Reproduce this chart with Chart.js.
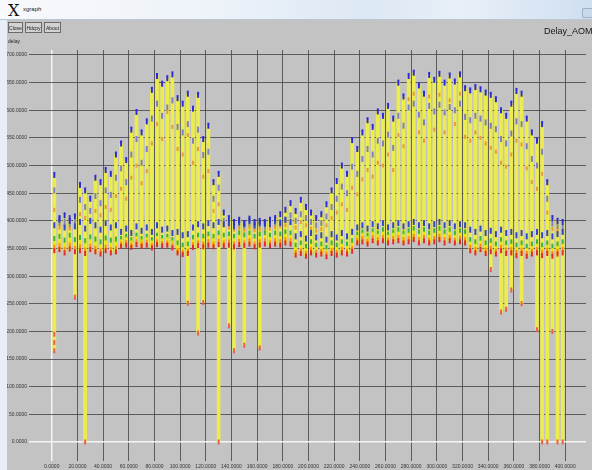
<!DOCTYPE html>
<html>
<head>
<meta charset="utf-8">
<title>xgraph</title>
<script src="https://cdn.jsdelivr.net/npm/chart.js@4.4.1/dist/chart.umd.min.js"></script>
<style>
  html, body { margin: 0; padding: 0; }
  body {
    width: 592px; height: 470px; overflow: hidden; position: relative;
    background: #c3c3c3; font-family: "Liberation Sans", Arial, sans-serif;
  }
  #plot { position: absolute; left: 0; top: 0; }
  #titlebar {
    position: absolute; left: 0; top: 0; width: 592px; height: 19px;
    background: linear-gradient(90deg, #f7f9fc 0%, #eef3f9 35%, #dce8f4 62%, #e8eff8 78%, #cfdff0 100%);
    border-bottom: 1px solid #b9c6d4;
  }
  #frame { position: absolute; left: 0; top: 20px; width: 7px; height: 450px; background: #e8eef6; }
  #xlogo { position: absolute; left: 8px; top: 1px; font: 16px "DejaVu Serif", serif; color: #111; }
  #apptitle { position: absolute; left: 23px; top: 6px; font-size: 6px; color: #222; }
  #winbtn { position: absolute; left: 582px; top: 8px; width: 12px; height: 8px; background: #c9d8ea; border: 1px solid #9fb1c6; border-radius: 1px; }
  .btn {
    position: absolute; top: 22px; height: 11px; line-height: 11px; box-sizing: border-box;
    border: 1px solid #6a6a6a; background: #d2d2d2; font-size: 5px; color: #222; text-align: center;
  }
  #unit { position: absolute; left: 8px; top: 38px; font-size: 5px; color: #222; }
  #heading { position: absolute; left: 544px; top: 26px; font-size: 9px; color: #151515; white-space: nowrap; }
</style>
</head>
<body>
<canvas id="plot" width="592" height="470"></canvas>
<div id="titlebar"></div>
<div id="xlogo">X</div>
<div id="apptitle">xgraph</div>
<div id="winbtn"></div>
<div id="frame"></div>
<div class="btn" style="left:8px;width:15px;">Close</div>
<div class="btn" style="left:25px;width:17px;">Hdcpy</div>
<div class="btn" style="left:44px;width:17px;">About</div>
<div id="unit">delay</div>
<div id="heading">Delay_AOMI</div>
<script>
// sample times (x) of each measurement column
const positions = [
  2, 6, 10, 14, 18, 22, 26, 30, 34, 38,
  42, 46, 50, 54, 58, 62, 66, 70, 74, 78,
  82, 86, 90, 94, 98, 102, 106, 110, 114, 118,
  122, 126, 130, 134, 138, 142, 146, 150, 154, 158,
  162, 166, 170, 174, 178, 182, 186, 190, 194, 198,
  202, 206, 210, 214, 218, 222, 226, 230, 234, 238,
  242, 246, 250, 254, 258, 262, 266, 270, 274, 278,
  282, 286, 290, 294, 298, 302, 306, 310, 314, 318,
  322, 326, 330, 334, 338, 342, 346, 350, 354, 358,
  362, 366, 370, 374, 378, 382, 386, 390, 394, 398
];

// highest delay per column
const maxDelay = [
  483, 405, 410, 400, 408, 465, 455, 440, 478, 470,
  492, 485, 520, 540, 510, 565, 597, 560, 580, 637,
  662, 648, 658, 665, 622, 612, 630, 603, 628, 548,
  572, 470, 485, 415, 405, 398, 402, 396, 404, 398,
  400, 395, 402, 405, 412, 420, 432, 418, 438, 425,
  415, 405, 412, 430, 455, 472, 500, 485, 546, 530,
  560, 582, 570, 598, 590, 608, 585, 650, 625, 662,
  668, 645, 630, 664, 655, 666, 650, 663, 652, 665,
  640, 636, 642, 638, 632, 628, 620, 600, 590, 612,
  635, 630, 585, 560, 545, 575, 470, 405, 400, 398
];

// upper intermediate level
const upperDelay = [
  455, 396, 398, 392, 397, 438, 425, 418, 445, 432,
  455, 447, 478, 495, 470, 520, 548, 505, 530, 585,
  612, 590, 605, 618, 570, 560, 575, 545, 565, 519,
  525, 440, 460, 400, 396, 390, 392, 388, 394, 389,
  391, 387, 393, 395, 398, 402, 410, 400, 412, 405,
  398, 392, 396, 408, 425, 440, 462, 450, 498, 485,
  512, 530, 520, 545, 540, 556, 532, 590, 572, 605,
  612, 592, 578, 608, 598, 610, 596, 606, 600, 612,
  588, 582, 590, 585, 578, 572, 566, 548, 540, 558,
  580, 575, 535, 512, 500, 525, 440, 395, 390, 388
];

// middle level
const midDelay = [
  420, 388, 390, 386, 389, 412, 405, 400, 418, 410,
  425, 420, 445, 458, 440, 478, 500, 468, 490, 540,
  575, 548, 597, 570, 530, 520, 555, 505, 530, 480,
  490, 418, 430, 392, 388, 384, 386, 382, 388, 383,
  385, 381, 386, 388, 390, 392, 396, 388, 398, 392,
  386, 382, 385, 392, 405, 415, 430, 420, 460, 448,
  475, 492, 480, 505, 500, 520, 492, 555, 535, 620,
  630, 560, 545, 625, 565, 628, 560, 618, 575, 630,
  552, 545, 560, 550, 540, 532, 525, 505, 498, 520,
  545, 538, 495, 470, 458, 485, 415, 385, 382, 380
];

// top of the dense band
const bandTop = [
  392, 402, 388, 405, 390, 398, 386, 400, 392, 384, 396, 388, 392,
  380, 386, 378, 390, 382, 388, 380, 392, 384, 386, 378, 380, 374, 376,
  388, 394, 390, 396, 392, 398, 394, 396, 390, 398, 394, 400, 392, 396, 398, 394, 400, 396, 402, 398,
  372, 376, 368, 378, 370, 374, 366, 376, 370, 378, 372, 380,
  388, 392, 386, 394, 390, 396, 388, 392, 396, 390, 394, 398, 392, 396, 390, 394, 398, 392, 396, 390, 394, 392,
  384, 380, 386, 378, 382, 376, 384, 378, 380, 374, 378, 372, 376, 380, 374, 378, 372, 376, 380
];

const greenDelay = [
  368, 372, 365, 374, 366, 370, 364, 371, 367, 362, 369, 365, 367,
  368, 372, 366, 374, 368, 372, 366, 374, 370, 372, 366, 360, 356, 358,
  370, 374, 372, 376, 372, 378, 374, 376, 372, 378, 374, 378, 372, 376, 378, 374, 378, 376, 380, 378,
  356, 360, 354, 362, 356, 358, 352, 360, 356, 362, 358, 364,
  376, 380, 374, 382, 378, 384, 376, 380, 384, 378, 382, 386, 380, 384, 378, 382, 386, 380, 384, 378, 382, 380,
  366, 362, 368, 360, 364, 358, 366, 360, 362, 356, 360, 354, 358, 362, 356, 360, 354, 358, 362
];

const yellowDelay = [
  358, 362, 355, 363, 356, 360, 354, 361, 357, 352, 359, 355, 357,
  362, 366, 360, 368, 362, 366, 360, 368, 364, 366, 360, 352, 348, 350,
  362, 366, 364, 368, 364, 370, 366, 368, 364, 370, 366, 370, 364, 368, 370, 366, 370, 368, 372, 370,
  348, 352, 346, 354, 348, 350, 344, 352, 348, 354, 350, 356,
  370, 374, 368, 376, 372, 376, 370, 374, 376, 372, 374, 378, 372, 376, 370, 374, 378, 372, 376, 370, 374, 372,
  358, 354, 360, 352, 356, 350, 358, 352, 354, 348, 352, 346, 350, 354, 348, 352, 346, 350, 354
];

const orangeDelay = [
  352, 355, 348, 356, 350, 353, 347, 354, 350, 346, 352, 348, 350,
  358, 361, 356, 362, 358, 361, 355, 362, 359, 360, 355, 346, 343, 345,
  357, 360, 358, 362, 358, 363, 360, 362, 358, 363, 360, 364, 358, 362, 364, 360, 364, 362, 366, 364,
  343, 346, 341, 348, 343, 345, 340, 346, 343, 348, 345, 350,
  365, 368, 363, 370, 366, 370, 365, 368, 370, 366, 368, 372, 366, 370, 365, 368, 372, 366, 370, 365, 368, 366,
  352, 348, 354, 347, 350, 345, 352, 347, 348, 343, 347, 341, 345, 348, 343, 347, 341, 345, 348
];

// lowest regular delay per column
const minDelay = [
  346, 348, 342, 349, 344, 346, 341, 348, 344, 340, 346, 342, 344,
  354, 356, 352, 357, 354, 356, 351, 357, 355, 356, 351, 342, 339, 341,
  352, 355, 353, 356, 353, 357, 355, 356, 353, 357, 355, 358, 353, 356, 358, 355, 358, 356, 360, 358,
  338, 341, 336, 342, 338, 340, 335, 341, 338, 342, 340, 345,
  360, 362, 358, 364, 360, 364, 360, 362, 364, 360, 362, 366, 360, 364, 360, 362, 366, 360, 364, 360, 362, 360,
  346, 342, 348, 341, 344, 340, 346, 341, 342, 337, 341, 336, 340, 342, 337, 341, 336, 340, 342
];

// isolated low readings
const lowOutX = [2, 2, 2, 18, 26, 106, 114, 118, 130, 138, 142, 150, 162,
                 342, 350, 354, 358, 366, 378, 382, 386, 390, 394, 398];
const lowOutY = [165, 180, 195, 262, 0, 251, 197, 252, 0, 210, 165, 175, 170,
                 312, 235, 240, 275, 250, 203, 0, 0, 200, 0, 0];

// axis ticks
const xTickValues = [0, 20, 40, 60, 80, 100, 120, 140, 160, 180, 200, 220, 240, 260, 280, 300, 320, 340, 360, 380, 400];
const yTickValues = [0, 50, 100, 150, 200, 250, 300, 350, 400, 450, 500, 550, 600, 650, 700];

const toPoints = (ys) => positions.map((x, i) => ({ x: x, y: ys[i] }));

// vertical span of each column, from its lowest reading to its highest
const spans = positions.map((x, i) => {
  let lo = minDelay[i];
  lowOutX.forEach((ox, j) => { if (ox === x && lowOutY[j] < lo) lo = lowOutY[j]; });
  return { x: x, y: [lo, maxDelay[i]] };
});

const mark = (label, ys, color, order, radius) => ({
  type: 'scatter', label: label, data: toPoints(ys), order: order,
  pointStyle: 'line', rotation: 90, pointRadius: radius, borderWidth: 2,
  borderColor: color, backgroundColor: color, pointHoverRadius: radius
});

const GRID = 'rgba(66,66,66,0.8)';
const ZERO = '#f5f5f5';

new Chart(document.getElementById('plot'), {
  type: 'scatter',
  data: {
    datasets: [
      { type: 'bar', label: 'span', data: spans, order: 20,
        backgroundColor: '#ecec4c', borderWidth: 0, barThickness: 3 },
      mark('upper', upperDelay, '#7f80b6', 9, 3),
      mark('mid', midDelay, '#e89a38', 8, 2),
      mark('band top', bandTop, '#3346c8', 7, 3),
      mark('green', greenDelay, '#37b337', 6, 2.5),
      mark('yellow', yellowDelay, '#f0e400', 5, 2.5),
      mark('orange', orangeDelay, '#ff8a10', 4, 2.5),
      mark('min', minDelay, '#e42a2a', 3, 2.5),
      { type: 'scatter', label: 'low', order: 2,
        data: lowOutX.map((x, j) => ({ x: x, y: lowOutY[j] })),
        pointStyle: 'line', rotation: 90, pointRadius: 2.5, borderWidth: 2,
        borderColor: '#e8604a', backgroundColor: '#e8604a' },
      mark('max', maxDelay, '#2b2bd6', 1, 3)
    ]
  },
  options: {
    responsive: false,
    animation: false,
    devicePixelRatio: 1,
    layout: { padding: { top: 50, left: 0, right: 0, bottom: 0 } },
    plugins: { legend: { display: false }, tooltip: { enabled: false }, title: { display: false } },
    scales: {
      x: {
        type: 'linear', min: -17.73, max: 416.18, offset: false,
        afterBuildTicks: (s) => { s.ticks = xTickValues.map(v => ({ value: v })); },
        afterFit: (s) => { s.height = 9; },
        border: { display: false },
        grid: {
          offset: false, drawTicks: false,
          color: (c) => (c.tick && c.tick.value === 0 ? ZERO : GRID),
          lineWidth: (c) => (c.tick && c.tick.value === 0 ? 1.5 : 1)
        },
        ticks: {
          autoSkip: false, maxRotation: 0, padding: 3, color: '#333',
          font: { family: 'Liberation Sans', size: 5 },
          callback: (v) => Number(v).toFixed(4)
        }
      },
      y: {
        type: 'linear', min: -34.37, max: 709.04,
        afterBuildTicks: (s) => { s.ticks = yTickValues.map(v => ({ value: v })); },
        afterFit: (s) => { s.width = 29; },
        border: { display: false },
        grid: {
          drawTicks: false,
          color: (c) => (c.tick && c.tick.value === 0 ? ZERO : GRID),
          lineWidth: (c) => (c.tick && c.tick.value === 0 ? 1.5 : 1)
        },
        ticks: {
          padding: 2, color: '#333',
          font: { family: 'Liberation Sans', size: 5 },
          callback: (v) => Number(v).toFixed(4)
        }
      }
    }
  }
});
</script>
</body>
</html>
